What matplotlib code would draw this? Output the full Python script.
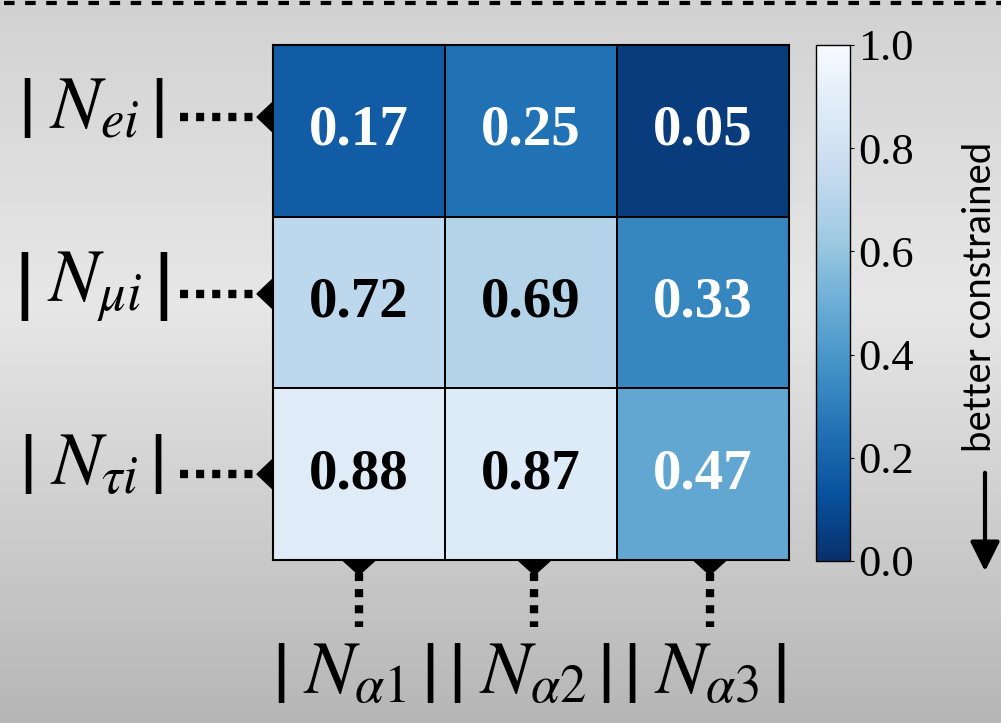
import numpy as np
import matplotlib
import matplotlib.pyplot as plt
from matplotlib.colors import LinearSegmentedColormap
from matplotlib.lines import Line2D
from matplotlib.patches import Polygon
import matplotlib.transforms as mtransforms

plt.rcParams['font.family'] = 'Liberation Serif'
plt.rcParams['mathtext.fontset'] = 'stix'
plt.rcParams['lines.scale_dashes'] = False

row_labels = [r'$\left|\;N_{ei}\,\right|$', r'$\left|\;N_{\mu i}\,\right|$',
              r'$\left|\;N_{\tau i}\,\right|$']
col_labels = [r'$\left|\;N_{\alpha 1}\,\right|$', r'$\left|\;N_{\alpha 2}\,\right|$',
              r'$\left|\;N_{\alpha 3}\,\right|$']
values = np.array([[0.17, 0.25, 0.05],
                   [0.72, 0.69, 0.33],
                   [0.88, 0.87, 0.47]])
cbar_ticks = [0.0, 0.2, 0.4, 0.6, 0.8, 1.0]

# small nudges for the pointer ticks (data units)
row_nudge = [-0.08, -0.05, 0.0]
col_nudge = [0.0, 0.02, 0.04]

fig = plt.figure(figsize=(10.01, 7.23), dpi=100)

# grey gradient backdrop
bg = fig.add_axes([0, 0, 1, 1], zorder=-10)
bg_cmap = LinearSegmentedColormap.from_list(
    'bg', [(0.0, '#d2d2d2'), (0.42, '#e7e7e7'), (1.0, '#b6b6b6')])
bg.imshow(np.linspace(0, 1, 256).reshape(-1, 1), cmap=bg_cmap, aspect='auto',
          extent=[0, 1, 0, 1])
bg.set_axis_off()

# dashed rule along the top edge
fig.add_artist(Line2D([0.004, 1.0], [1 - 2.5 / 723, 1 - 2.5 / 723],
                      transform=fig.transFigure, color='black', lw=3.0,
                      dashes=(7.6, 7.6)))

ax = fig.add_axes([273 / 1001, 1 - 560 / 723, 516 / 1001, 515 / 723])
cax = fig.add_axes([816 / 1001, 1 - 561 / 723, 34 / 1001, 516 / 723])

cmap = plt.get_cmap('Blues_r')
mesh = ax.pcolormesh(np.arange(4), np.arange(4), values, cmap=cmap,
                     vmin=0, vmax=1, edgecolors='black', linewidth=1.2)
ax.set_xlim(0, 3)
ax.set_ylim(3, 0)
ax.set_xticks([])
ax.set_yticks([])
for s in ax.spines.values():
    s.set_linewidth(1.5)

for i in range(3):
    for j in range(3):
        v = values[i, j]
        ax.text(j + 0.5, i + 0.5, f'{v:.2f}', ha='center', va='center',
                fontsize=41, fontweight='bold',
                color='white' if v < 0.5 else 'black')

# left pointer ticks: dotted line ending in a triangle against the axis
ytrans = mtransforms.blended_transform_factory(ax.transAxes, ax.transData)
for i, lab in enumerate(row_labels):
    y = i + 0.5 + row_nudge[i]
    ax.add_line(Line2D([-0.181, -0.025], [y, y], transform=ytrans,
                       color='black', lw=6, dashes=(5.8, 5.8), clip_on=False))
    ax.add_patch(Polygon([[-0.031, y], [0, y - 0.088], [0, y + 0.088]],
                         closed=True, transform=ytrans, color='black',
                         clip_on=False))
    ax.text(-0.352, y - 0.04, lab, transform=ytrans, ha='center',
            va='center', fontsize=54)

# bottom pointer ticks
xtrans = mtransforms.blended_transform_factory(ax.transData, ax.transAxes)
for j, lab in enumerate(col_labels):
    x = j + 0.5 + col_nudge[j]
    ax.add_line(Line2D([x, x], [-0.025, -0.131], transform=xtrans,
                       color='black', lw=6, dashes=(5.8, 5.8), clip_on=False))
    ax.add_patch(Polygon([[x - 0.096, 0], [x + 0.096, 0], [x, -0.029]],
                         closed=True, transform=xtrans, color='black',
                         clip_on=False))
    ax.text(x - 0.03, -0.226, lab, transform=xtrans, ha='center', va='center',
            fontsize=54)

cb = fig.colorbar(mesh, cax=cax, ticks=cbar_ticks)
cb.outline.set_linewidth(1.0)
cax.tick_params(labelsize=32, length=3, width=0.8, pad=3)
cax.set_yticklabels([f'{t:.1f}' for t in cbar_ticks])

fig.text(980 / 1001, 1 - 297 / 723, 'better constrained', rotation=90,
         ha='center', va='center', fontsize=27.5, family='Lato')
fig.add_artist(matplotlib.patches.FancyArrowPatch(
    (985 / 1001, 1 - 470 / 723), (985 / 1001, 1 - 574 / 723),
    transform=fig.transFigure, arrowstyle='-|>,head_length=0.9,head_width=0.45',
    mutation_scale=20, color='black', lw=3))

fig.savefig('out.png', dpi=100)
